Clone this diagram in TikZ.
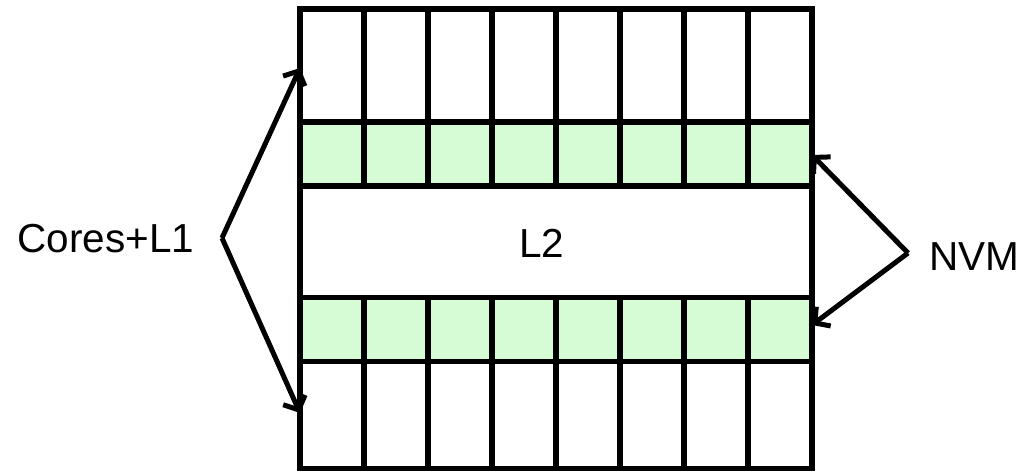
\documentclass[tikz,border=0pt]{standalone}
\usepackage{fontspec}
\setmainfont{Liberation Sans}
\usetikzlibrary{arrows.meta}
\definecolor{nvmgreen}{HTML}{D5FCD5}
\begin{document}
\begin{tikzpicture}[x=1pt,y=-1pt,
  cell/.style={draw=black,line width=5.5pt,inner sep=0pt,outer sep=0pt,minimum width=64pt},
  nvmcell/.style={cell,fill=nvmgreen},
  label/.style={font=\fontsize{40.5}{40.5}\selectfont,anchor=base},
  pointer/.style={line width=5pt,-{Straight Barb[length=11pt,width=24pt]},line join=miter}]
\useasboundingbox (0,0) rectangle (1031,473);
% core columns (top and bottom) and NVM banks
\foreach \i in {0,...,7}{
  \node[cell,minimum height=113pt] (ct\i) at ({332+64*\i},65.5) {};
  \node[nvmcell,minimum height=64pt] (nt\i) at ({332+64*\i},154) {};
  \node[nvmcell,minimum height=64pt] (nb\i) at ({332+64*\i},329.5) {};
  \node[cell,minimum height=107pt] (cb\i) at ({332+64*\i},415) {};
}
% shared L2 band
\node[cell,minimum width=512pt,minimum height=112pt] (l2) at (556,241.5) {};
\node[label] (l2t) at (542,258) {L2};
% labels
\node[label] (cores) at (106,253) {Cores+L1};
\node[label] (nvm) at (974,270) {NVM};
\coordinate (ca) at (222,238);
\coordinate (na) at (908,253);
\coordinate (ctip) at (ct0.west |- 0,68);
\coordinate (cbtip) at (cb0.west |- 0,413);
\coordinate (ntip) at (nt7.east |- 0,155);
\coordinate (nbtip) at (nb7.east |- 0,325);
\draw[pointer] (ca) -- (ctip);
\draw[pointer] (ca) -- (cbtip);
\draw[pointer] (na) -- (ntip);
\draw[pointer] (na) -- (nbtip);
\end{tikzpicture}
\end{document}
